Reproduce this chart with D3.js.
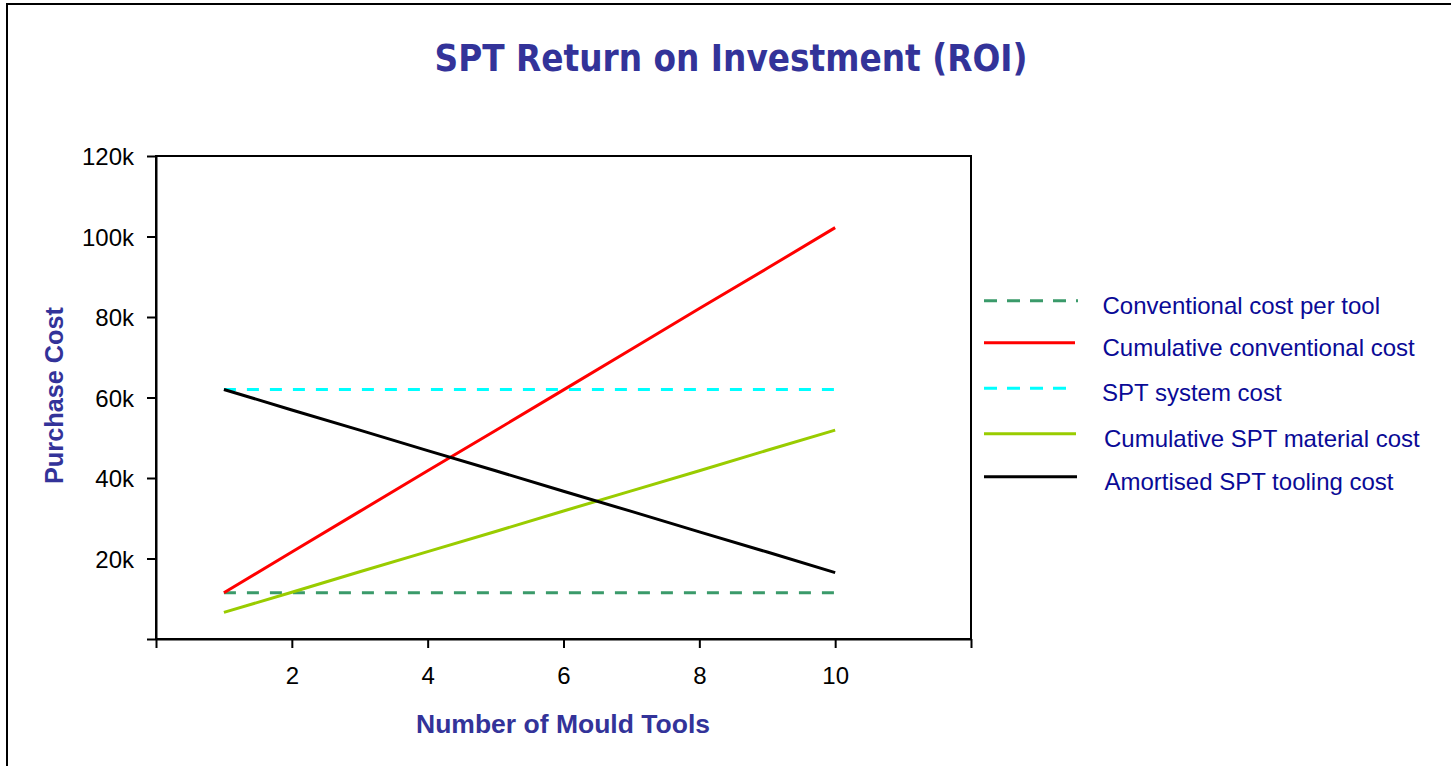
<!DOCTYPE html>
<html><head><meta charset="utf-8">
<script src="https://cdn.jsdelivr.net/npm/d3@7"></script>
<style>html,body{margin:0;padding:0;background:#fff;overflow:hidden}</style>
</head><body>
<svg id="c" width="1451" height="766"></svg>
<script>
// ---- data ----
const tools = [1,2,3,4,5,6,7,8,9,10];
const conventionalPerTool = [11500,11500,11500,11500,11500,11500,11500,11500,11500,11500];
const cumulativeConventional = [11500,21600,31700,41800,51800,61900,72000,82100,92100,102200];
const sptSystem = [62000,62000,62000,62000,62000,62000,62000,62000,62000,62000];
const cumulativeMaterial = [6600,11600,16700,21700,26700,31800,36800,41800,46900,51900];
const amortisedTooling = [62000,56900,51900,46800,41800,36700,31700,26600,21600,16500];
const seriesNames = ["Conventional cost per tool","Cumulative conventional cost","SPT system cost","Cumulative SPT material cost","Amortised SPT tooling cost"];
const yTicks = [0,20000,40000,60000,80000,100000,120000];
const xTicks = [0,2,4,6,8,10,12];

const svg = d3.select("#c");
const colors = ["#3a9a6a","#ff0000","#00ffff","#99cc00","#000000"];
const dashes = ["12,11",null,"12,11",null,null];
const seriesVals = [conventionalPerTool,cumulativeConventional,sptSystem,cumulativeMaterial,amortisedTooling];

// outer frame
svg.append("rect").attr("x",7).attr("y",4).attr("width",1460).attr("height",780)
  .attr("fill","none").attr("stroke","#000").attr("stroke-width",2);

const x = d3.scaleLinear().domain([0,12]).range([156,971]);
const y = d3.scaleLinear().domain([0,120000]).range([639,156]);

// title
svg.append("text").attr("x",731).attr("y",71).attr("text-anchor","middle")
  .attr("font-family","DejaVu Sans").attr("font-weight","bold").attr("font-size",37)
  .attr("fill","#333399").attr("textLength",593).attr("lengthAdjust","spacingAndGlyphs")
  .text("SPT Return on Investment (ROI)");

// plot box
svg.append("rect").attr("x",x(0)).attr("y",y(120000)).attr("width",x(12)-x(0)).attr("height",y(0)-y(120000))
  .attr("fill","none").attr("stroke","#000").attr("stroke-width",2);

// axes
const yAxis = d3.axisLeft(y).tickValues(yTicks).tickSize(9).tickSizeOuter(0)
  .tickFormat(d => d===0 ? "" : (d/1000)+"k");
const gy = svg.append("g").attr("transform",`translate(${x(0)},0)`).call(yAxis);
const xAxis = d3.axisBottom(x).tickValues(xTicks).tickSize(9).tickSizeOuter(0)
  .tickFormat(d => (d===0||d===12) ? "" : d);
const gx = svg.append("g").attr("transform",`translate(0,${y(0)})`).call(xAxis);
[gx,gy].forEach(g=>{
  g.select(".domain").attr("stroke","#000").attr("stroke-width",2);
  g.selectAll(".tick line").attr("stroke","#000").attr("stroke-width",2);
  g.selectAll(".tick text").attr("font-family","Liberation Sans, Arial").attr("font-size",24).attr("fill","#000");
});
gy.selectAll(".tick text").attr("x",-22).attr("dy","0.36em");
gx.selectAll(".tick text").attr("y",28).attr("dy","0.71em");

// axis titles
svg.append("text").attr("x",563).attr("y",733).attr("text-anchor","middle")
  .attr("font-family","Liberation Sans, Arial").attr("font-weight","bold").attr("font-size",26.5)
  .attr("fill","#333399").attr("textLength",294).attr("lengthAdjust","spacingAndGlyphs")
  .text("Number of Mould Tools");
svg.append("text").attr("transform","translate(62.5,395.5) rotate(-90)").attr("text-anchor","middle")
  .attr("font-family","Liberation Sans, Arial").attr("font-weight","bold").attr("font-size",25.5)
  .attr("fill","#333399").attr("textLength",177).attr("lengthAdjust","spacingAndGlyphs")
  .text("Purchase Cost");

// lines
const line = d3.line().x((d,i)=>x(tools[i])).y(d=>y(d));
seriesVals.forEach((vals,k)=>{
  svg.append("path").datum(vals).attr("d",line).attr("fill","none")
    .attr("stroke",colors[k]).attr("stroke-width",3)
    .attr("stroke-dasharray",dashes[k]);
});

// legend
const legY = [300.7,342.7,388.3,433.7,476.7];
const legX2 = [1078,1075,1067,1076,1077];
const legTx = [1102.5,1102.5,1102,1104,1104.5];
seriesNames.forEach((name,k)=>{
  svg.append("line").attr("x1",984).attr("x2",legX2[k]).attr("y1",legY[k]).attr("y2",legY[k])
    .attr("stroke",colors[k]).attr("stroke-width",3).attr("stroke-dasharray",dashes[k] ? "13,10" : null);
  svg.append("text").attr("x",legTx[k]).attr("y",legY[k]+13).attr("font-family","Liberation Sans, Arial")
    .attr("font-size",24).attr("fill","#0a0a96").text(name);
});
</script>
</body></html>
